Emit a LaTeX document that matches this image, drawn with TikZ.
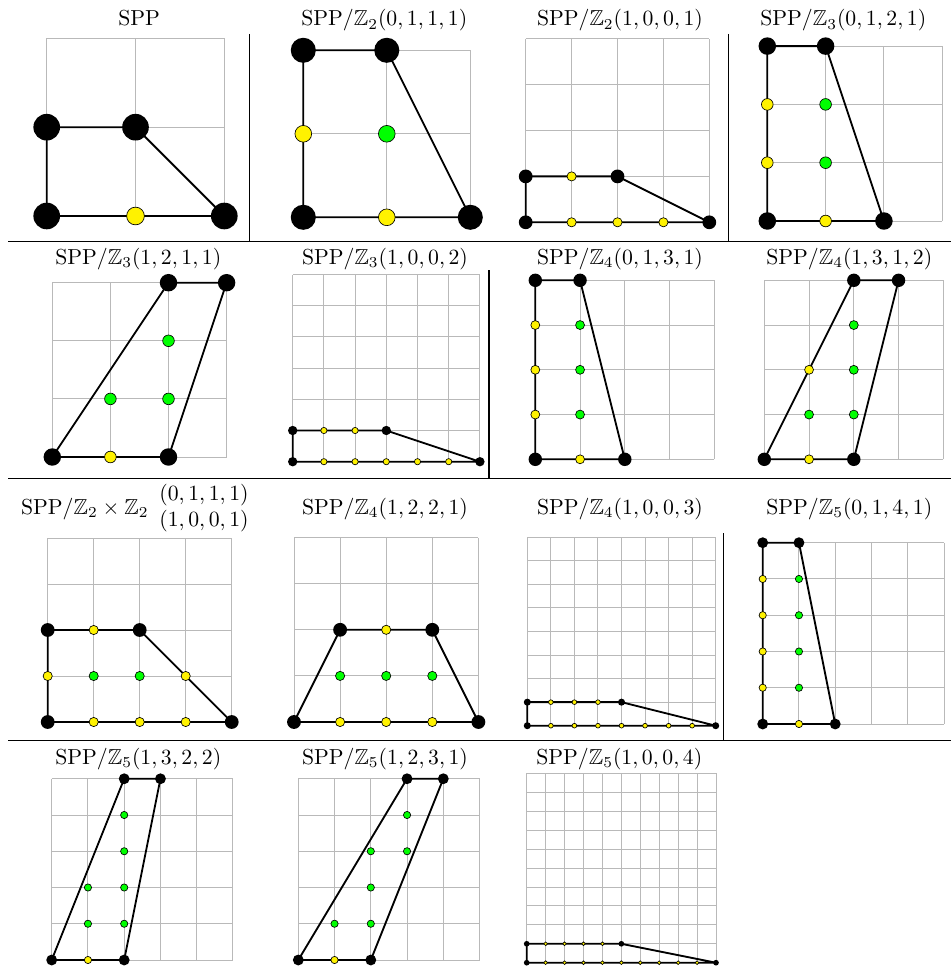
\documentclass[tikz,border=0pt]{standalone}
\usepackage{amssymb}
\newcommand\mypanel[8]{%
\begin{scope}[shift={(#1,#2)},x={(#3*0.4608pt,0pt)},y={(0pt,#3*0.4608pt)}]
\draw[gridline] (0,0) grid (#4,#4);
\draw[poly] #5 -- cycle;
\foreach \a/\b in {#6} \fill[blk] (\a,\b) circle (0.15);
\if\relax\detokenize{#7}\relax\else\foreach \a/\b in {#7} \filldraw[yel] (\a,\b) circle (0.1);\fi
\if\relax\detokenize{#8}\relax\else\foreach \a/\b in {#8} \filldraw[grn] (\a,\b) circle (0.1);\fi
\end{scope}}
\begin{document}
\begin{tikzpicture}[x=0.4608pt,y=-0.4608pt,
  gridline/.style={draw=gray!55,line width=0.45pt,step=1},
  poly/.style={draw=black,line width=0.85pt,line join=round},
  rule/.style={line width=0.55pt},
  ttl/.style={anchor=base,inner sep=0pt},
  blk/.style={fill=black},
  yel/.style={fill=yellow,draw=black,line width=0.3pt},
  grn/.style={fill=green,draw=black,line width=0.3pt}]
\useasboundingbox (0,0) rectangle (951,976);
% table rules
\draw[rule] (8,241.5) -- (951,241.5);
\draw[rule] (8,478.3) -- (951,478.3);
\draw[rule] (8,740.5) -- (951,740.5);
\draw[rule] (249.3,34) -- (249.3,241.5);
\draw[rule] (728.8,34) -- (728.8,241.5);
\draw[rule] (489,270) -- (489,478.3);
\draw[rule] (723.3,533) -- (723.3,740.5);
% row 1
\mypanel{46.7}{216}{88.8}{2}{(0,0) -- (2,0) -- (1,1) -- (0,1)}{0/0,2/0,1/1,0/1}{1/0}{}
\mypanel{303.3}{217.3}{83.5}{2}{(0,0) -- (2,0) -- (1,2) -- (0,2)}{0/0,2/0,1/2,0/2}{0/1,1/0}{1/1}
\mypanel{525.7}{222.3}{45.9}{4}{(0,0) -- (4,0) -- (2,1) -- (0,1)}{0/0,4/0,2/1,0/1}{1/1,1/0,2/0,3/0}{}
\mypanel{767.3}{221}{58.3}{3}{(0,0) -- (2,0) -- (1,3) -- (0,3)}{0/0,2/0,1/3,0/3}{0/1,0/2,1/0}{1/1,1/2}
% row 2
\mypanel{52.3}{457}{58.1}{3}{(0,0) -- (2,0) -- (3,3) -- (2,3)}{0/0,2/0,3/3,2/3}{1/0}{1/1,2/1,2/2}
\mypanel{292.7}{461.7}{31.2}{6}{(0,0) -- (6,0) -- (3,1) -- (0,1)}{0/0,6/0,3/1,0/1}{1/1,2/1,1/0,2/0,3/0,4/0,5/0}{}
\mypanel{535.3}{459.3}{44.75}{4}{(0,0) -- (2,0) -- (1,4) -- (0,4)}{0/0,2/0,1/4,0/4}{0/1,0/2,0/3,1/0}{1/1,1/2,1/3}
\mypanel{764.3}{459.3}{44.75}{4}{(0,0) -- (2,0) -- (3,4) -- (2,4)}{0/0,2/0,3/4,2/4}{1/0,1/2}{1/1,2/1,2/2,2/3}
% row 3
\mypanel{47.7}{722}{46}{4}{(0,0) -- (4,0) -- (2,2) -- (0,2)}{0/0,4/0,2/2,0/2}{1/2,0/1,3/1,1/0,2/0,3/0}{1/1,2/1}
\mypanel{294}{722}{46.1}{4}{(0,0) -- (4,0) -- (3,2) -- (1,2)}{0/0,4/0,3/2,1/2}{2/2,1/0,2/0,3/0}{1/1,2/1,3/1}
\mypanel{527.3}{725.7}{23.55}{8}{(0,0) -- (8,0) -- (4,1) -- (0,1)}{0/0,8/0,4/1,0/1}{1/1,2/1,3/1,1/0,2/0,3/0,4/0,5/0,6/0,7/0}{}
\mypanel{762.7}{724}{36.26}{5}{(0,0) -- (2,0) -- (1,5) -- (0,5)}{0/0,2/0,1/5,0/5}{0/1,0/2,0/3,0/4,1/0}{1/1,1/2,1/3,1/4}
% row 4
\mypanel{51.7}{960}{36.25}{5}{(0,0) -- (2,0) -- (3,5) -- (2,5)}{0/0,2/0,3/5,2/5}{1/0}{1/1,2/1,1/2,2/2,2/3,2/4}
\mypanel{298.3}{960}{36.25}{5}{(0,0) -- (2,0) -- (4,5) -- (3,5)}{0/0,2/0,4/5,3/5}{1/0}{1/1,2/1,2/2,2/3,3/3,3/4}
\mypanel{526.7}{962.7}{18.93}{10}{(0,0) -- (10,0) -- (5,1) -- (0,1)}{0/0,10/0,5/1,0/1}{1/1,2/1,3/1,4/1,1/0,2/0,3/0,4/0,5/0,6/0,7/0,8/0,9/0}{}
% titles
\node[ttl] (t1) at (139.2,26) {$\mathrm{SPP}$};
\node[ttl] (t2) at (384.3,26) {$\mathrm{SPP}/\mathbb{Z}_2(0,1,1,1)$};
\node[ttl] (t3) at (620,26) {$\mathrm{SPP}/\mathbb{Z}_2(1,0,0,1)$};
\node[ttl] (t4) at (843.3,26) {$\mathrm{SPP}/\mathbb{Z}_3(0,1,2,1)$};
\node[ttl] (t5) at (138.3,264.3) {$\mathrm{SPP}/\mathbb{Z}_3(1,2,1,1)$};
\node[ttl] (t6) at (385,264.3) {$\mathrm{SPP}/\mathbb{Z}_3(1,0,0,2)$};
\node[ttl] (t7) at (620,264.3) {$\mathrm{SPP}/\mathbb{Z}_4(0,1,3,1)$};
\node[ttl] (t8) at (849.3,264.3) {$\mathrm{SPP}/\mathbb{Z}_4(1,3,1,2)$};
\node[anchor=base west,inner sep=0pt] (t9) at (20.7,514) {$\mathrm{SPP}/\mathbb{Z}_2\times\mathbb{Z}_2\begin{array}{c}(0,1,1,1)\\(1,0,0,1)\end{array}$};
\node[ttl] (t10) at (385,514) {$\mathrm{SPP}/\mathbb{Z}_4(1,2,2,1)$};
\node[ttl] (t11) at (620,514) {$\mathrm{SPP}/\mathbb{Z}_4(1,0,0,3)$};
\node[ttl] (t12) at (849.3,514) {$\mathrm{SPP}/\mathbb{Z}_5(0,1,4,1)$};
\node[ttl] (t13) at (138.3,764.3) {$\mathrm{SPP}/\mathbb{Z}_5(1,3,2,2)$};
\node[ttl] (t14) at (385,764.3) {$\mathrm{SPP}/\mathbb{Z}_5(1,2,3,1)$};
\node[ttl] (t15) at (619.3,764.3) {$\mathrm{SPP}/\mathbb{Z}_5(1,0,0,4)$};
\end{tikzpicture}
\end{document}
